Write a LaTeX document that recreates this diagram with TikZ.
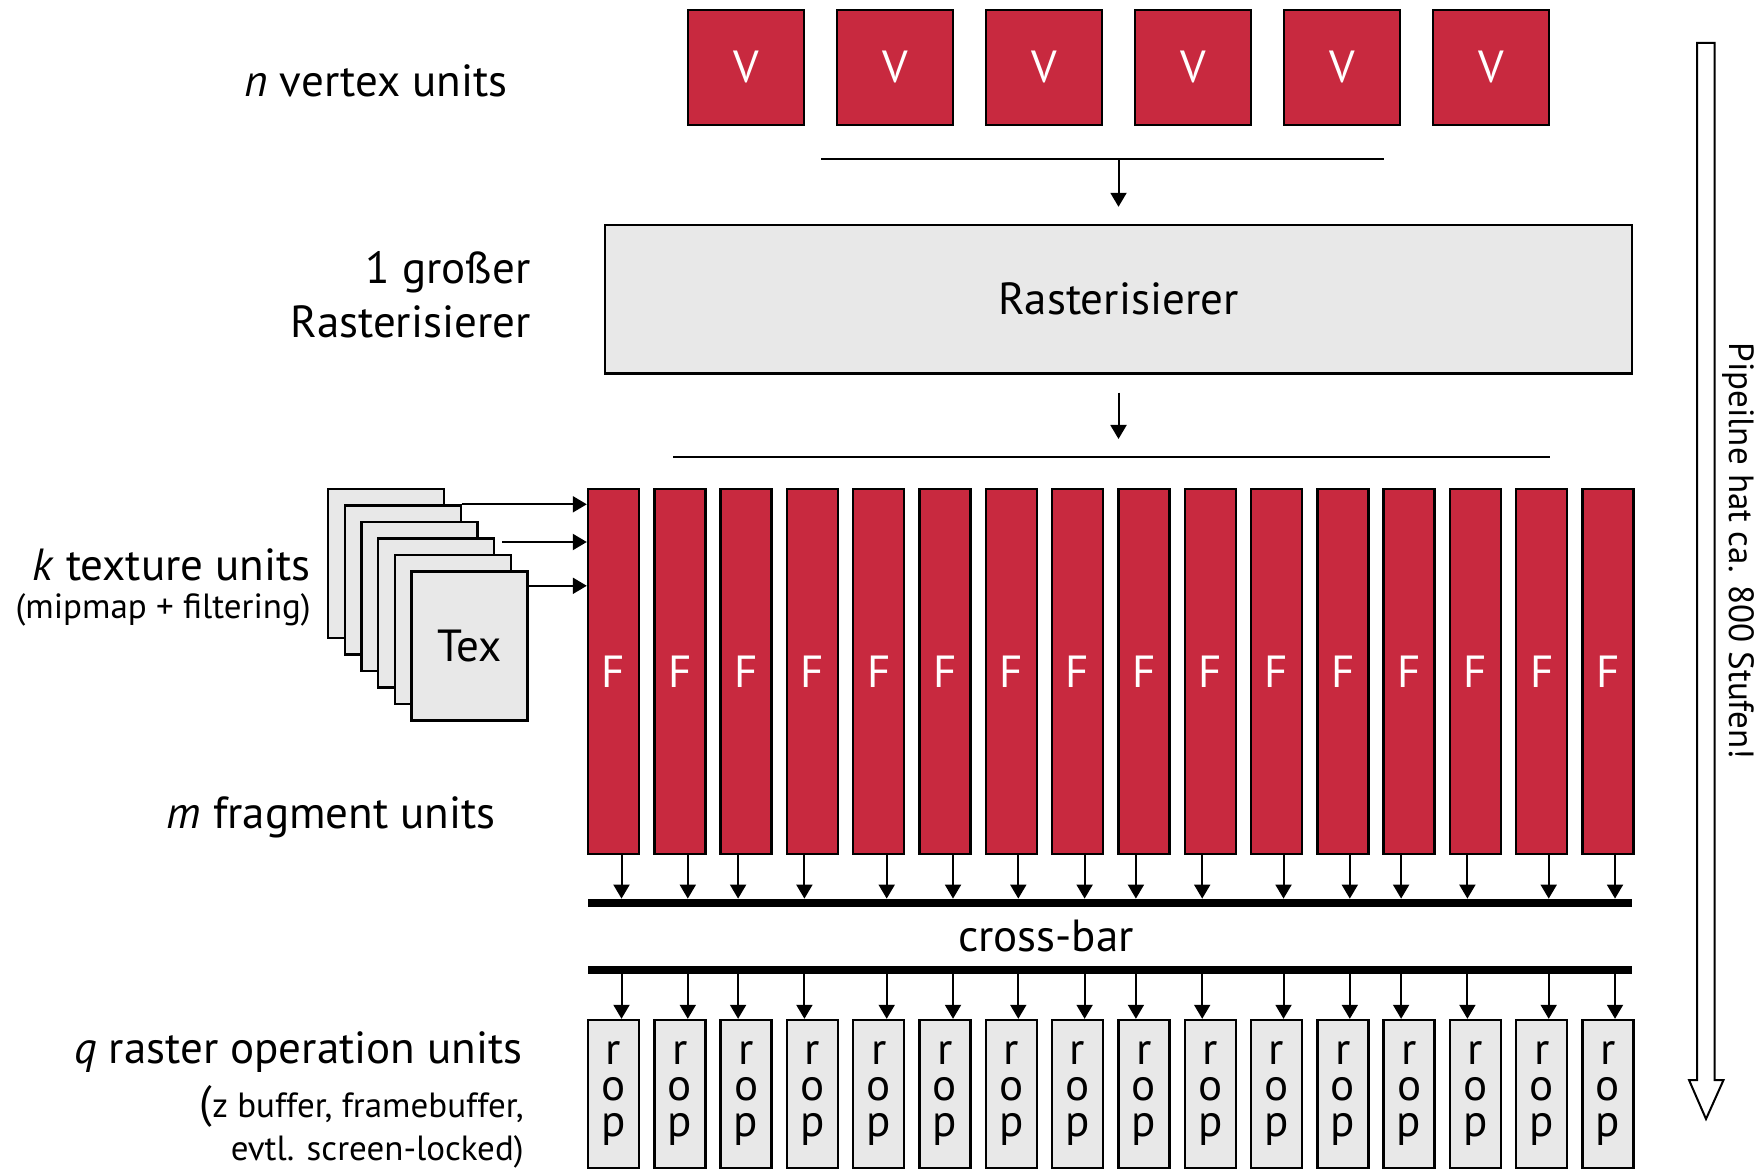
\documentclass[tikz,border=0pt]{standalone}
\usepackage{fontspec}
\setmainfont{PT Sans}
\usetikzlibrary{arrows.meta}
\definecolor{unitred}{RGB}{200,41,63}
\definecolor{unitgray}{RGB}{232,232,232}

\begin{document}
\begin{tikzpicture}[x=0.5pt, y=-0.5pt,
        every node/.style={font=\fontsize{22.5}{27}\selectfont, inner sep=0pt},
        redunit/.style={draw, line width=1.2pt, fill=unitred, text=white},
        grayunit/.style={draw, line width=1.2pt, fill=unitgray},
        small/.style={font=\fontsize{17.5}{21.5}\selectfont},
        arr/.style={-{Triangle[length=7pt, width=8pt]}, line width=1pt},
        bar/.style={fill=black, minimum width=522pt, minimum height=4pt}]
            \useasboundingbox (0,0) rectangle (1764,1170);

            % vertex units
            \foreach \i in {1,...,6}
                \node[redunit, minimum width=57.75pt, minimum height=57.5pt]
                    (v\i) at ({746+149*(\i-1)}, 67.5) {V};
            \coordinate (vbusL) at (821,159);
            \coordinate (vbusR) at (1384,159);
            \draw[line width=1pt] (vbusL) -- (vbusR);

            % rasterizer
            \node[grayunit, minimum width=513.5pt, minimum height=74.25pt]
                (ras) at (1118.5,299.25) {Rasterisierer};
            \draw[arr, shorten >=8.5pt] (ras.north |- vbusL) -- (ras.north);
            \coordinate (fbusL) at (673,457);
            \coordinate (fbusR) at (1550,457);
            \draw[line width=1pt] (fbusL) -- (fbusR);
            \draw[arr, shorten <=9pt, shorten >=9pt] (ras.south) -- (ras.south |- fbusL);

            % fragment units
            \foreach \i in {1,...,16}
                \node[redunit, minimum width=25.5pt, minimum height=182.5pt]
                    (f\i) at ({613.5+66.3*(\i-1)}, 671.5) {F};

            % texture units
            \foreach \i in {0,...,4}
                \node[grayunit, minimum width=58pt, minimum height=74.5pt]
                    (tex\i) at ({386+16.7*\i}, {563.5+16.5*\i}) {};
            \node[grayunit, text=black, minimum width=58pt, minimum height=74.5pt]
                (tex5) at (469.5,646) {Tex};
            \draw[arr] (tex1.north east) -- (tex1.north east -| f1.west);
            \coordinate (texmid) at (502,542);
            \draw[arr] (texmid) -- (texmid -| f1.west);
            \draw[arr] ([yshift=-7.75pt]tex5.north east) -- ([yshift=-7.75pt]tex5.north east -| f1.west);

            % cross-bar
            \node[bar] (xbarA) at (1110,903) {};
            \node[bar] (xbarB) at (1110,970) {};
            \node (xlabel) at (1046,936) {cross-bar};

            % raster operation units
            \foreach \i in {1,...,16}
                \node[grayunit, minimum width=25.5pt, minimum height=74pt, align=center,
                    font=\fontsize{22.5}{18}\selectfont]
                    (r\i) at ({613.5+66.3*(\i-1)}, 1094) {r\\o\\p};
            \foreach \i/\o in {1/8,2/8,3/-8,4/-8,5/8,6/8,7/7,8/7,9/-8,10/-8,11/7,12/7,13/-8,14/-8,15/7,16/7} {
                \draw[arr] ([xshift=\o*0.5pt]f\i.south) -- ([xshift=\o*0.5pt]f\i.south |- xbarA.north);
                \draw[arr] ([xshift=\o*0.5pt]r\i.north |- xbarB.south) -- ([xshift=\o*0.5pt]r\i.north);
            }

            % labels on the left
            \node[anchor=east] (nlabel) at (508,81) {\textit{n} vertex units};
            \node[anchor=east, align=right] (raslabel) at (531,295) {1 großer\\Rasterisierer};
            \node[anchor=east] (klabel) at (311,565) {\textit{k} texture units};
            \node[anchor=east, small] (kdesc) at (311,610) {(mipmap + filtering)};
            \node[anchor=east] (mlabel) at (496,817) {\textit{m} fragment units};
            \node[anchor=east] (qlabel) at (523,1052) {\textit{q} raster operation units};
            \node[anchor=east, small, align=right] (qdesc) at (524,1127)
                {{\fontsize{22.5}{21.5}\selectfont(}z buffer, framebuffer,\\evtl. screen-locked)};

            % pipeline arrow
            \draw[line width=1pt, fill=white] (1697,43) -- (1714.5,43) -- (1714.5,1080) -- (1723.5,1080)
                -- (1706,1119) -- (1689,1080) -- (1697,1080) -- cycle;
            \node[small, rotate=-90] (pipelabel) at (1738,551) {Pipeilne hat ca. 800 Stufen!};
        \end{tikzpicture}
\end{document}
